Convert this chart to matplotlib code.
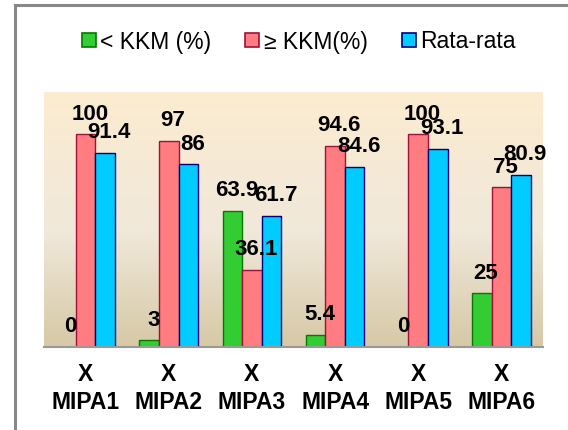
import numpy as np
import matplotlib
matplotlib.use("Agg")
import matplotlib.pyplot as plt
from matplotlib.colors import LinearSegmentedColormap
from matplotlib.lines import Line2D

classes = ["X\nMIPA1", "X\nMIPA2", "X\nMIPA3", "X\nMIPA4", "X\nMIPA5", "X\nMIPA6"]
below_kkm = [0, 3, 63.9, 5.4, 0, 25]
above_kkm = [100, 97, 36.1, 94.6, 100, 75]
rata_rata = [91.4, 86, 61.7, 84.6, 93.1, 80.9]
series_names = ["< KKM (%)", "\u2265 KKM(%)", "Rata-rata"]

face_colors = ["#33CC33", "#FF7C80", "#00CCFF"]
edge_colors = ["#007A00", "#A0103A", "#000080"]

plt.rcParams["font.family"] = ["Liberation Sans", "DejaVu Sans"]

fig = plt.figure(figsize=(5.68, 4.30), dpi=100)
ax = fig.add_axes([44 / 568, 1 - 346.5 / 430, 499 / 568, 254.5 / 430])

# gradient background of the plot area
cmap = LinearSegmentedColormap.from_list(
    "bg", [(0, "#D6C9A6"), (0.45, "#F0E8DA"), (1, "#FCECD0")])
grad = np.linspace(0, 1, 256).reshape(-1, 1)
ax.imshow(grad, cmap=cmap, aspect="auto", origin="lower",
          extent=[0, 1, 0, 1], transform=ax.transAxes, zorder=0)

x = np.arange(len(classes))
w = 0.235
for i, vals in enumerate([below_kkm, above_kkm, rata_rata]):
    pos = x + (i - 1) * w
    ax.bar(pos, vals, w, color=face_colors[i], edgecolor=edge_colors[i],
           linewidth=1.0, zorder=2)
    for xp, v in zip(pos, vals):
        ax.annotate(f"{v:g}", (xp, v), xytext=(3, 10.5), textcoords="offset points",
                    ha="center", va="baseline", fontsize=16, fontweight="bold",
                    zorder=3)

ax.set_xlim(-0.5, len(classes) - 0.5)
ax.set_ylim(0, 120)
ax.set_yticks([])
ax.set_xticks(x)
ax.set_xticklabels(classes, fontsize=16.5, fontweight="bold", linespacing=1.25)
ax.tick_params(axis="x", length=0, pad=12)
for s in ["top", "right", "left"]:
    ax.spines[s].set_visible(False)
ax.spines["bottom"].set_color("#999999")
ax.spines["bottom"].set_linewidth(1.5)
ax.spines["bottom"].set_zorder(4)

handles = [Line2D([], [], marker="s", linestyle="none", markersize=9.5,
                  markerfacecolor=face_colors[i], markeredgecolor=edge_colors[i],
                  markeredgewidth=1.2) for i in range(3)]
fig.legend(handles, series_names, loc="center", bbox_to_anchor=(0.525, 1 - 42 / 430),
           ncol=3, frameon=False, fontsize=16.5, handlelength=0.7, handletextpad=0.15,
           columnspacing=1.45)

# outer frame (left and top only)
fig.add_artist(Line2D([14.5 / 568, 14.5 / 568], [0, 1 - 5 / 430], color="#888888", lw=2.2))
fig.add_artist(Line2D([14.5 / 568, 1], [1 - 5 / 430, 1 - 5 / 430], color="#888888", lw=2.2))

fig.savefig("out.png", dpi=100)
